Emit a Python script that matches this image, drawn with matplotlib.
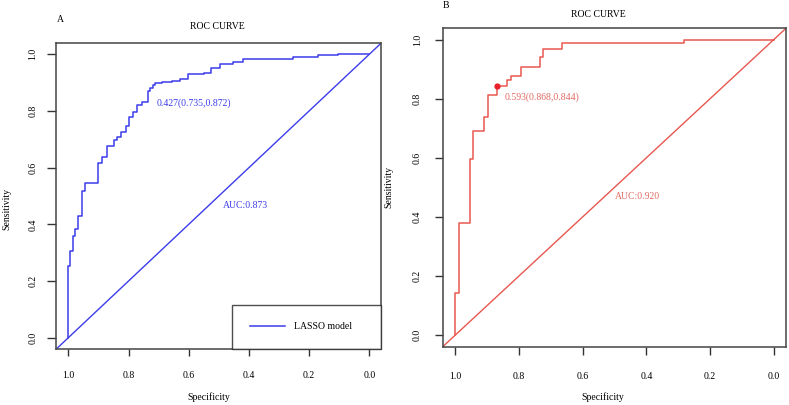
import matplotlib
matplotlib.use('Agg')
import matplotlib.pyplot as plt

plt.rcParams['font.family'] = ['Liberation Serif', 'DejaVu Serif']

# ROC curve A (LASSO model), corner points (steps-post)
spec_a = [1.0, 1.0, 0.994, 0.984, 0.978, 0.969, 0.955, 0.944, 0.902, 0.889, 0.872,
          0.850, 0.837, 0.826, 0.808, 0.800, 0.786, 0.773, 0.756, 0.736, 0.728,
          0.720, 0.712, 0.690, 0.657, 0.629, 0.601, 0.549, 0.527, 0.496, 0.452,
          0.421, 0.252, 0.169, 0.103, 0.0]
sens_a = [0.0, 0.254, 0.306, 0.360, 0.383, 0.430, 0.518, 0.545, 0.617, 0.639, 0.677,
          0.698, 0.709, 0.727, 0.747, 0.780, 0.797, 0.821, 0.833, 0.872, 0.882,
          0.890, 0.897, 0.901, 0.907, 0.913, 0.930, 0.935, 0.951, 0.966, 0.974,
          0.985, 0.991, 0.996, 1.0, 1.0]
auc_a = 0.873
thr_a = (0.427, 0.735, 0.872)

# ROC curve B
spec_b = [1.0, 1.0, 0.987, 0.955, 0.944, 0.909, 0.896, 0.868, 0.837, 0.825, 0.794,
          0.734, 0.724, 0.664, 0.282, 0.0]
sens_b = [0.0, 0.141, 0.378, 0.596, 0.691, 0.737, 0.813, 0.844, 0.864, 0.877, 0.909,
          0.940, 0.969, 0.988, 1.0, 1.0]
auc_b = 0.920
thr_b = (0.593, 0.868, 0.844)

ticks = [1.0, 0.8, 0.6, 0.4, 0.2, 0.0]
tick_labels = ['1.0', '0.8', '0.6', '0.4', '0.2', '0.0']

blue = '#3c3cec'
red = '#e8574f'
red_text = '#e06a62'

fig = plt.figure(figsize=(7.89, 4.05), dpi=100)
ax_a = fig.add_axes([0.0714, 0.1383, 0.4119, 0.7556])
ax_b = fig.add_axes([0.5610, 0.1437, 0.4357, 0.7874])


def style_axes(ax, xpad, ypad, xlen, ylen):
    ax.set_xlim(1.04, -0.04)
    ax.set_ylim(-0.04, 1.04)
    ax.set_xticks(ticks)
    ax.set_xticklabels(tick_labels)
    ax.set_yticks(ticks[::-1])
    ax.set_yticklabels(tick_labels[::-1], rotation=90, va='center')
    ax.tick_params(axis='x', length=xlen, width=1.0, pad=xpad, labelsize=7, color='#333333')
    ax.tick_params(axis='y', length=ylen, width=1.0, pad=ypad, labelsize=7, color='#333333')
    for s in ax.spines.values():
        s.set_color('#444444')
        s.set_linewidth(1.1)
    ax.set_xlabel('Specificity', fontsize=7)
    ax.set_ylabel('Sensitivity', fontsize=7)


# Panel A
ax_a.plot([1.04, -0.04], [-0.04, 1.04], color=blue, lw=1.0)
ax_a.plot(spec_a, sens_a, drawstyle='steps-post', color=blue, lw=1.1, label='LASSO model')
ax_a.text(0.706, 0.827, f'{thr_a[0]:.3f}({thr_a[1]:.3f},{thr_a[2]:.3f})',
          color=blue, fontsize=7, ha='left', va='center')
ax_a.text(0.487, 0.466, f'AUC:{auc_a:.3f}', color=blue, fontsize=7, ha='left', va='center')
style_axes(ax_a, xpad=11, ypad=7, xlen=4.8, ylen=6.5)
ax_a.xaxis.set_label_coords(0.47, -0.142)
ax_a.yaxis.set_label_coords(-0.138, 0.457)
leg = ax_a.legend(loc='lower left', bbox_to_anchor=(0.5406, 0.0, 0.4594, 0.157),
                  mode='expand', borderaxespad=0, fancybox=False, fontsize=7,
                  handlelength=3.6, handletextpad=1.0, borderpad=1.8)
leg.get_frame().set_edgecolor('#222222')
leg.get_frame().set_linewidth(1.0)

# Panel B
ax_b.plot([1.04, -0.04], [-0.04, 1.04], color=red, lw=1.0)
ax_b.plot(spec_b, sens_b, drawstyle='steps-post', color=red, lw=1.1)
ax_b.plot([thr_b[1]], [thr_b[2]], 'o', color='#e8202a', ms=3.5)
ax_b.text(0.846, 0.805, f'{thr_b[0]:.3f}({thr_b[1]:.3f},{thr_b[2]:.3f})',
          color=red_text, fontsize=7, ha='left', va='center')
ax_b.text(0.498, 0.468, f'AUC:{auc_b:.3f}', color=red_text, fontsize=7, ha='left', va='center')
style_axes(ax_b, xpad=13, ypad=9, xlen=5.5, ylen=6)
ax_b.xaxis.set_label_coords(0.465, -0.142)
ax_b.yaxis.set_label_coords(-0.144, 0.5)

# titles and panel letters
fig.text(217 / 789, 1 - 26.7 / 405, 'ROC CURVE', fontsize=7, ha='center', va='center')
fig.text(598 / 789, 1 - 14.3 / 405, 'ROC CURVE', fontsize=7, ha='center', va='center')
fig.text(60 / 789, 1 - 19 / 405, 'A', fontsize=7, ha='center', va='center')
fig.text(446 / 789, 1 - 6 / 405, 'B', fontsize=7, ha='center', va='center')

fig.savefig('out.png', dpi=100)
